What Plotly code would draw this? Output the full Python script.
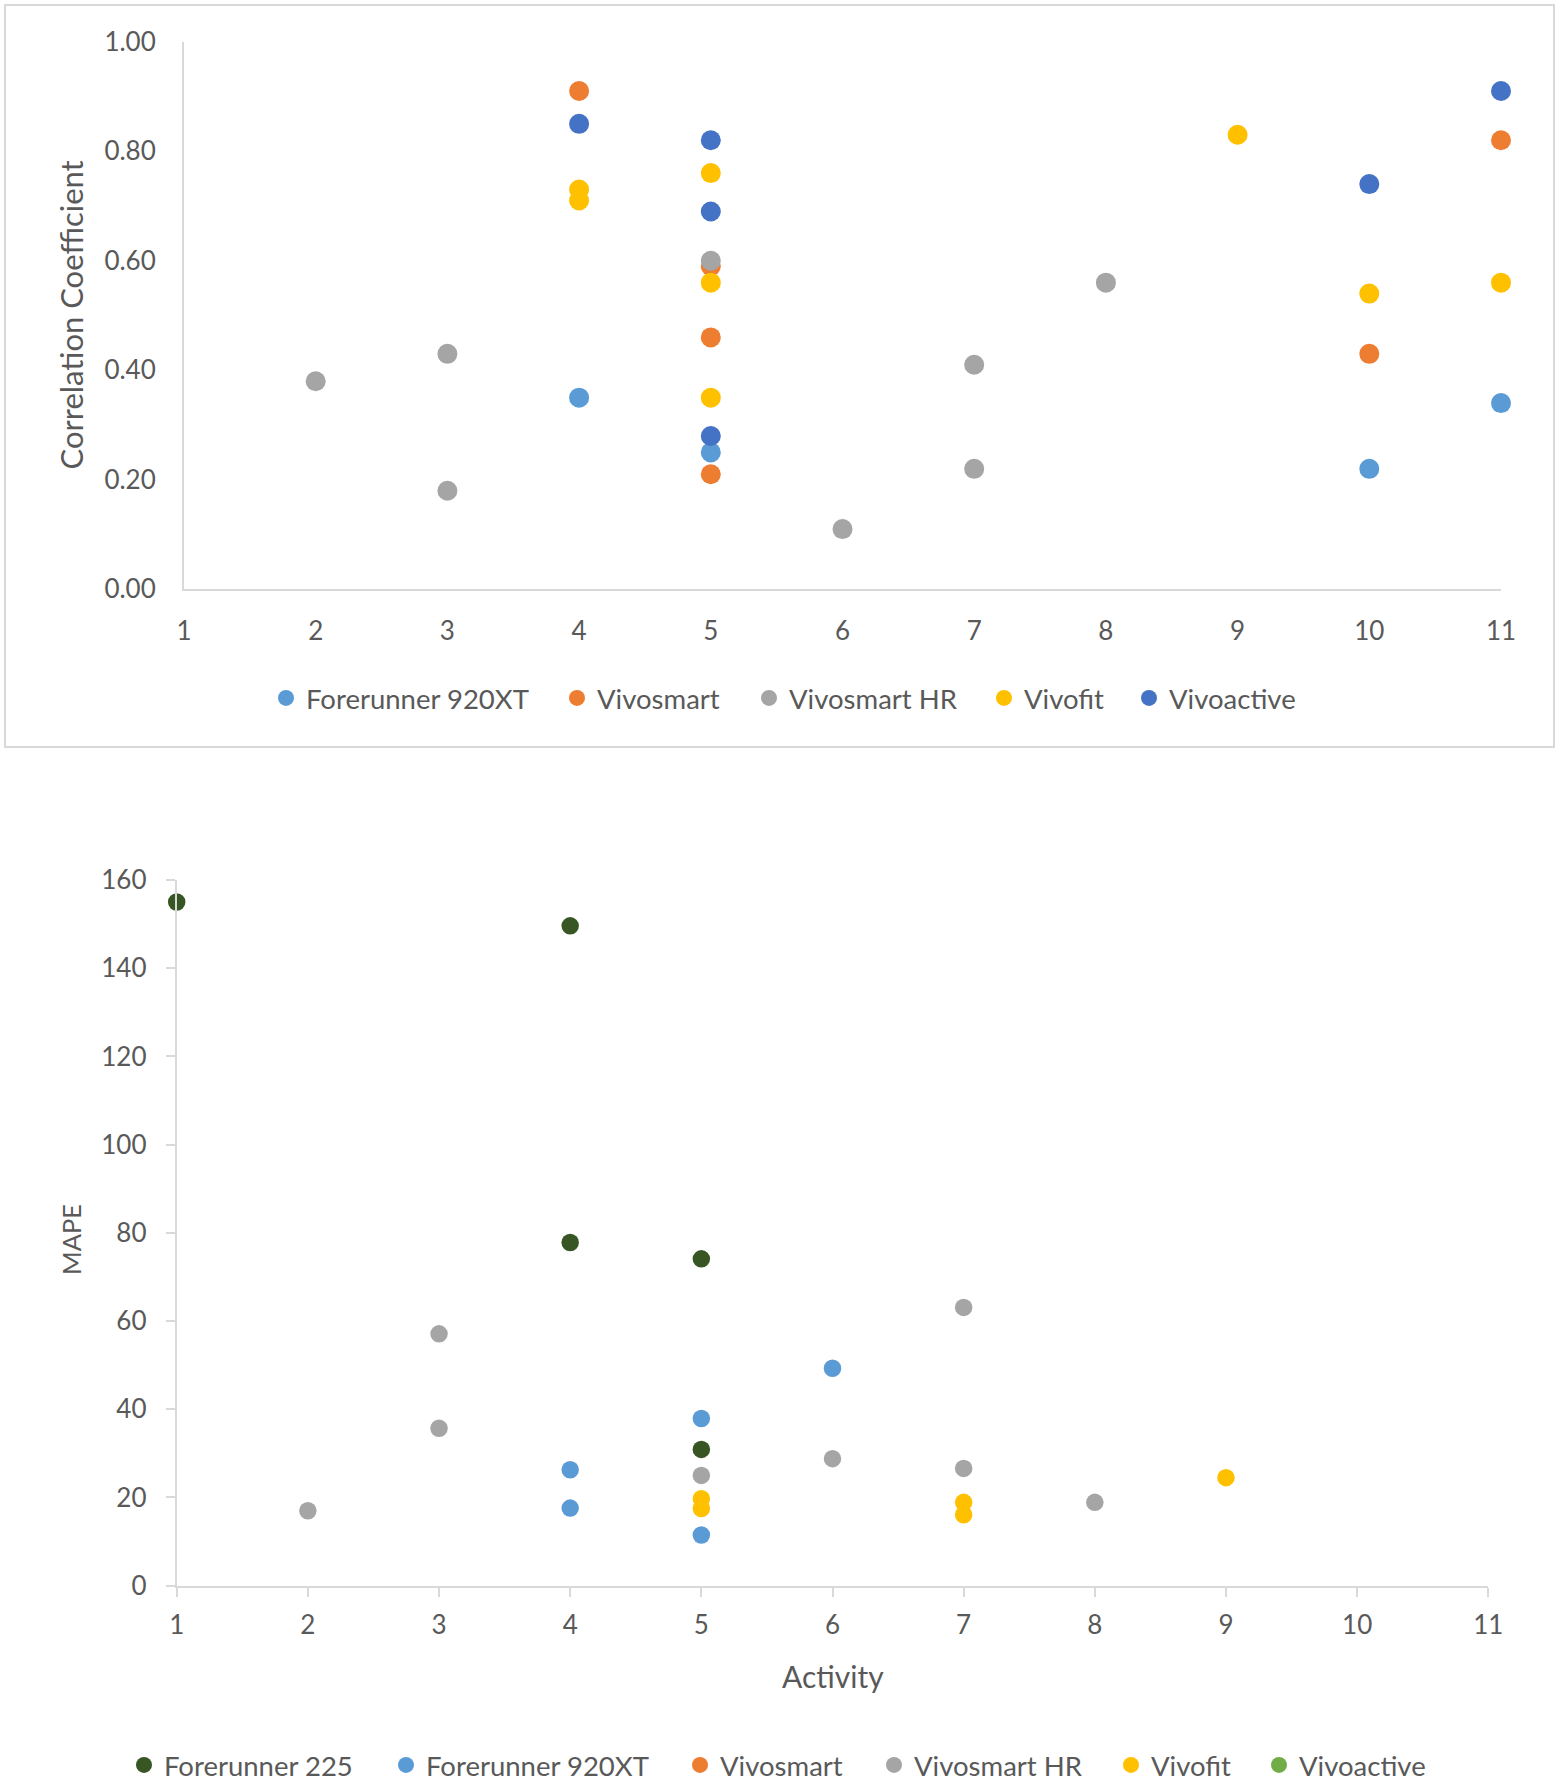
import plotly.graph_objects as go

W, H = 1560, 1781
FONT = "Lato"
TXT = "#595959"
AXC = "#d9d9d9"

# ---------------- data: top chart (Correlation Coefficient) ----------------
top_names = ["Forerunner 920XT", "Vivosmart", "Vivosmart HR", "Vivofit", "Vivoactive"]
top_colors = ["#5B9BD5", "#ED7D31", "#A5A5A5", "#FFC000", "#4472C4"]

fr920_top_x = [4, 5, 10, 11]
fr920_top_y = [0.35, 0.25, 0.22, 0.34]

vsmart_top_x = [4, 5, 5, 5, 10, 11]
vsmart_top_y = [0.91, 0.59, 0.46, 0.21, 0.43, 0.82]

vsmarthr_top_x = [2, 3, 3, 5, 6, 7, 7, 8]
vsmarthr_top_y = [0.38, 0.43, 0.18, 0.60, 0.11, 0.41, 0.22, 0.56]

vfit_top_x = [4, 4, 5, 5, 5, 9, 10, 11]
vfit_top_y = [0.73, 0.71, 0.76, 0.56, 0.35, 0.83, 0.54, 0.56]

vact_top_x = [4, 5, 5, 5, 10, 11]
vact_top_y = [0.85, 0.82, 0.69, 0.28, 0.74, 0.91]

top_y_ticks = [0.0, 0.2, 0.4, 0.6, 0.8, 1.0]
top_y_ticklabels = ["0.00", "0.20", "0.40", "0.60", "0.80", "1.00"]
x_ticks = list(range(1, 12))

# ---------------- data: bottom chart (MAPE) ----------------
bot_names = ["Forerunner 225", "Forerunner 920XT", "Vivosmart", "Vivosmart HR", "Vivofit", "Vivoactive"]
bot_colors = ["#375623", "#5B9BD5", "#ED7D31", "#A5A5A5", "#FFC000", "#70AD47"]

fr225_bot_x = [1, 4, 4, 5, 5]
fr225_bot_y = [155, 149.6, 77.8, 74.1, 30.9]

fr920_bot_x = [4, 4, 5, 5, 6]
fr920_bot_y = [26.3, 17.6, 37.9, 11.5, 49.3]

vsmart_bot_x = []
vsmart_bot_y = []

vsmarthr_bot_x = [2, 3, 3, 5, 6, 7, 7, 8]
vsmarthr_bot_y = [17.0, 57.1, 35.7, 25.0, 28.8, 63.1, 26.6, 18.9]

vfit_bot_x = [5, 5, 7, 7, 9]
vfit_bot_y = [19.7, 17.5, 18.9, 16.1, 24.5]

vact_bot_x = []
vact_bot_y = []

bot_y_ticks = [0, 20, 40, 60, 80, 100, 120, 140, 160]

top_series = [
    (fr920_top_x, fr920_top_y),
    (vsmart_top_x, vsmart_top_y),
    (vsmarthr_top_x, vsmarthr_top_y),
    (vfit_top_x, vfit_top_y),
    (vact_top_x, vact_top_y),
]
bot_series = [
    (fr225_bot_x, fr225_bot_y),
    (fr920_bot_x, fr920_bot_y),
    (vsmart_bot_x, vsmart_bot_y),
    (vsmarthr_bot_x, vsmarthr_bot_y),
    (vfit_bot_x, vfit_bot_y),
    (vact_bot_x, vact_bot_y),
]

# legend marker centres (pixels)
top_leg_x = [286, 577, 769, 1004, 1149]
top_leg_y = 698
bot_leg_x = [144, 406, 700, 894, 1131, 1279]
bot_leg_y = 1765


def px(x):
    return x / W


def py(y):
    return 1 - y / H


fig = go.Figure()

leg_i = 0
legends = {}


def leg_name(i):
    return "legend" if i == 0 else f"legend{i + 1}"


for (xs, ys), name, col, lx in zip(top_series, top_names, top_colors, top_leg_x):
    ln = leg_name(leg_i)
    fig.add_trace(go.Scatter(
        x=xs, y=ys, mode="markers", name=name,
        marker=dict(color=col, size=20, line=dict(width=0)),
        xaxis="x", yaxis="y", cliponaxis=False, legend=ln,
    ))
    legends[ln] = dict(x=px(lx - 20), y=py(top_leg_y), xanchor="left", yanchor="middle")
    leg_i += 1

for (xs, ys), name, col, lx in zip(bot_series, bot_names, bot_colors, bot_leg_x):
    ln = leg_name(leg_i)
    fig.add_trace(go.Scatter(
        x=xs if xs else [None], y=ys if ys else [None], mode="markers", name=name,
        marker=dict(color=col, size=17.5, line=dict(width=0)),
        xaxis="x2", yaxis="y2", cliponaxis=False, legend=ln,
    ))
    legends[ln] = dict(x=px(lx - 20), y=py(bot_leg_y), xanchor="left", yanchor="middle")
    leg_i += 1

layout_legends = {}
for k, v in legends.items():
    layout_legends[k] = dict(
        **v, orientation="h", bgcolor="rgba(0,0,0,0)", borderwidth=0,
        font=dict(family=FONT, size=27.5, color=TXT),
    )

tickfont = dict(family=FONT, size=26, color=TXT)

fig.update_layout(
    width=W, height=H, autosize=False,
    margin=dict(l=0, r=0, t=0, b=0, pad=0, autoexpand=False),
    paper_bgcolor="white", plot_bgcolor="white",
    font=dict(family=FONT, color=TXT),
    showlegend=True,
    xaxis=dict(
        domain=[px(184), px(1501)], range=[1, 11], tickvals=x_ticks, automargin=False,
        showgrid=False, zeroline=False, showline=True, linecolor=AXC, linewidth=2,
        ticks="", tickfont=tickfont, ticklabelstandoff=17, anchor="y",
    ),
    yaxis=dict(
        domain=[py(589.3), py(41.7)], range=[0, 1], tickvals=top_y_ticks, automargin=False,
        ticktext=top_y_ticklabels,
        showgrid=False, zeroline=False, showline=True, linecolor=AXC, linewidth=2,
        ticks="", tickfont=tickfont, ticklabelstandoff=21, anchor="x",
    ),
    xaxis2=dict(
        domain=[px(176.7), px(1488.3)], range=[1, 11], tickvals=x_ticks, automargin=False,
        showgrid=False, zeroline=False, showline=True, linecolor=AXC, linewidth=2,
        ticks="outside", ticklen=9, tickwidth=2, tickcolor=AXC,
        tickfont=tickfont, ticklabelstandoff=6, anchor="y2",
    ),
    yaxis2=dict(
        domain=[py(1585.7), py(880)], range=[0, 160], tickvals=bot_y_ticks, automargin=False,
        showgrid=False, zeroline=False, showline=True, linecolor=AXC, linewidth=2,
        ticks="outside", ticklen=9, tickwidth=2, tickcolor=AXC,
        tickfont=tickfont, ticklabelstandoff=14, anchor="x2",
    ),
    **layout_legends,
)

# chart-area border of the top chart
fig.add_shape(type="rect", xref="paper", yref="paper",
              x0=px(5), x1=px(1554), y0=py(747), y1=py(5),
              line=dict(color=AXC, width=2), fillcolor="rgba(0,0,0,0)", layer="below")

fig.add_annotation(text="Correlation Coefficient", xref="paper", yref="paper",
                   x=px(70), y=py(315.5), textangle=-90, showarrow=False,
                   font=dict(family=FONT, size=31, color=TXT),
                   xanchor="center", yanchor="middle")
fig.add_annotation(text="MAPE", xref="paper", yref="paper",
                   x=px(71), y=py(1240), textangle=-90, showarrow=False,
                   font=dict(family=FONT, size=25.5, color=TXT),
                   xanchor="center", yanchor="middle")
fig.add_annotation(text="Activity", xref="paper", yref="paper",
                   x=px(832.5), y=py(1676), showarrow=False,
                   font=dict(family=FONT, size=30, color=TXT),
                   xanchor="center", yanchor="middle")

fig.write_html(
    "out.html",
    config={"displayModeBar": False},
    post_script="document.body.style.margin='0';document.body.style.overflow='hidden';",
)
